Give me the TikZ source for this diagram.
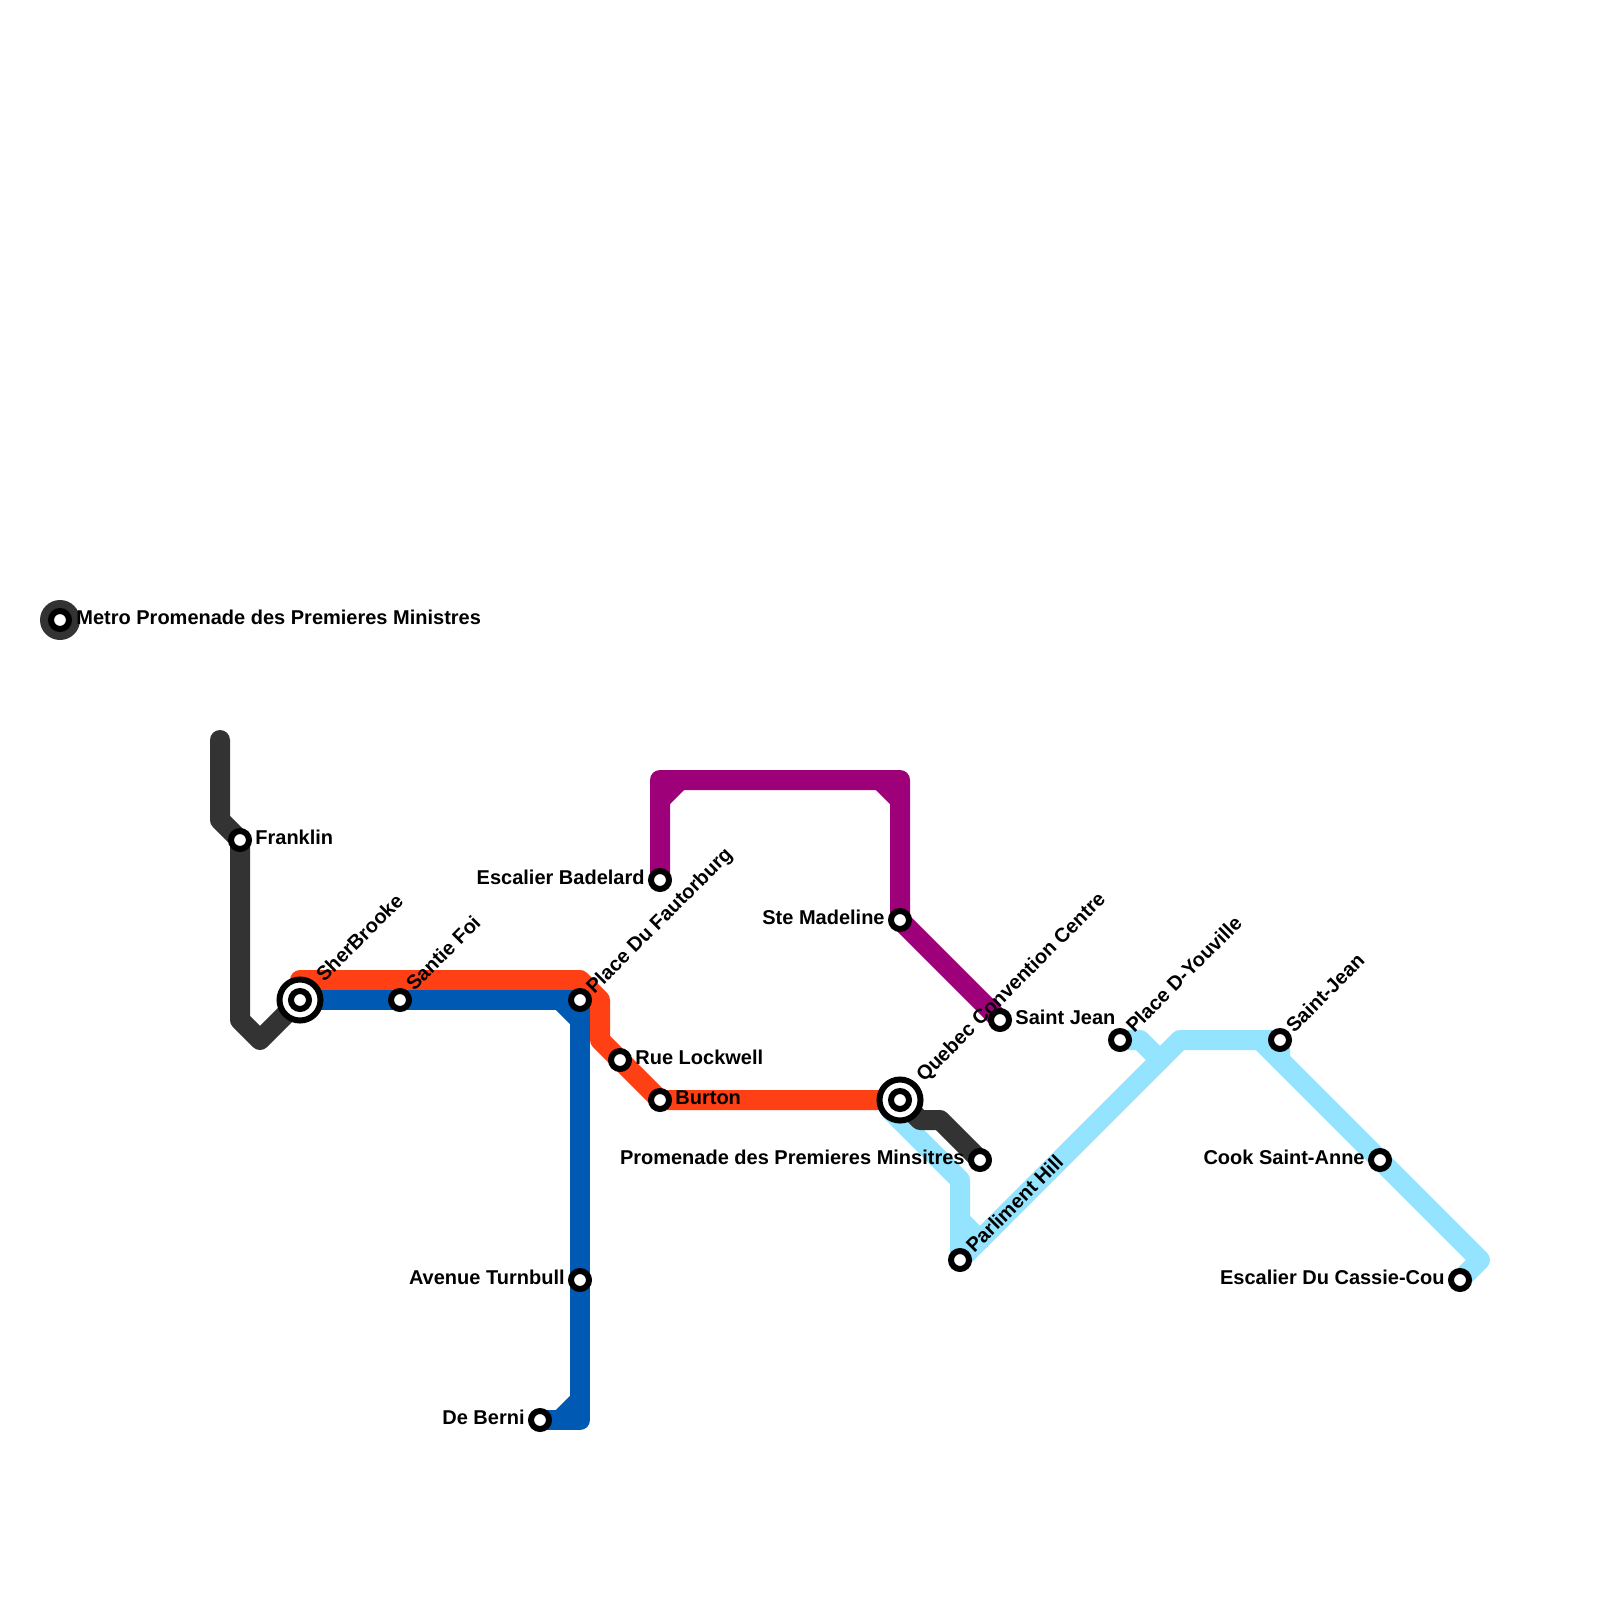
\documentclass[tikz,border=0pt]{standalone}
\usepackage{fontspec}
\setmainfont{Liberation Sans}
\usetikzlibrary{backgrounds}
\definecolor{lblack}{HTML}{333333}
\definecolor{lred}{HTML}{FF4014}
\definecolor{lblue}{HTML}{0059B3}
\definecolor{lpurple}{HTML}{9E007A}
\definecolor{lsky}{HTML}{94E3FF}
\tikzset{
  stn/.style={circle,draw=black,fill=white,line width=3pt,minimum size=9pt,inner sep=0pt,outer sep=0pt},
  hub/.style={circle,draw=black,fill=white,line width=3pt,minimum size=20.5pt,inner sep=0pt,outer sep=0pt},
  metro/.style={circle,fill=lblack,minimum size=20pt,inner sep=0pt,outer sep=0pt},
  track/.style={line width=10pt,line cap=round,line join=round},
  txt/.style={font=\fontsize{10pt}{12pt}\selectfont\bfseries,inner sep=0pt,text=black},
  lbr/.style={txt,anchor=base west},
  lbl/.style={txt,anchor=base east},
  lbd/.style={txt,anchor=base west,rotate=45}
}
\begin{document}
\begin{tikzpicture}[x=0.5pt,y=-0.5pt]
\path[use as bounding box] (0,0) rectangle (1600,1600);
% stations
\node[metro] (mpmo) at (60,620) {};
\node[stn] (mp) at (60,620) {};
\node[stn] (fr) at (240,840) {};
\node[hub] (sbo) at (300,1000) {};
\node[stn] (sb) at (300,1000) {};
\node[stn] (sf) at (400,1000) {};
\node[stn] (pf) at (580,1000) {};
\node[stn] (rl) at (620,1060) {};
\node[stn] (bu) at (660,1100) {};
\node[stn] (eb) at (660,880) {};
\node[stn] (sm) at (900,920) {};
\node[stn] (sj) at (1000,1020) {};
\node[hub] (qco) at (900,1100) {};
\node[stn] (qc) at (900,1100) {};
\node[stn] (pm) at (980,1160) {};
\node[stn] (ph) at (960,1260) {};
\node[stn] (py) at (1120,1040) {};
\node[stn] (sa) at (1280,1040) {};
\node[stn] (ck) at (1380,1160) {};
\node[stn] (ec) at (1460,1280) {};
\node[stn] (at) at (580,1280) {};
\node[stn] (db) at (540,1420) {};
% waypoints
\coordinate (k1) at (220,740);
\coordinate (k2) at (220,820);
\coordinate (k3) at (240,1020);
\coordinate (k4) at (260,1040);
\coordinate (k5) at (920,1120);
\coordinate (k6) at (940,1120);
\coordinate (r1) at (300,980);
\coordinate (r2) at (580,980);
\coordinate (r3) at (600,1000);
\coordinate (r4) at (600,1040);
\coordinate (b1) at (580,1420);
\coordinate (b2) at (560,1000);
\coordinate (b3) at (580,1020);
\coordinate (b4) at (560,1420);
\coordinate (b5) at (580,1400);
\coordinate (p1) at (660,780);
\coordinate (p2) at (900,780);
\coordinate (p3) at (660,800);
\coordinate (p4) at (680,780);
\coordinate (p5) at (880,780);
\coordinate (p6) at (900,800);
\coordinate (s0) at (890,1110);
\coordinate (s1) at (960,1180);
\coordinate (s2) at (960,1220);
\coordinate (s3) at (980,1240);
\coordinate (s4) at (1180,1040);
\coordinate (s5) at (1260,1040);
\coordinate (s6) at (1480,1260);
\coordinate (s7) at (1280,1060);
\coordinate (s8) at (1140,1040);
\coordinate (s9) at (1160,1060);
\begin{scope}[on background layer]
\fill[white] (0,0) rectangle (1600,1600);
% sky line
\draw[track,lsky] (s0) -- (s1) -- (ph.center) -- (s4) -- (sa.center) -- (s7);
\draw[track,lsky] (s2) -- (s3);
\draw[track,lsky] (s5) -- (ck.center) -- (s6) -- (ec.center);
\draw[track,lsky] (py.center) -- (s8) -- (s9);
% black line
\draw[track,lblack] (k1) -- (k2) -- (fr.center) -- (k3) -- (k4) -- (sb.center);
\draw[track,lblack] (qc.center) -- (k5) -- (k6) -- (pm.center);
% red line
\draw[track,lred] (sb.center) -- (r1) -- (r2) -- (r3) -- (r4) -- (rl.center) -- (bu.center) -- (qc.center);
% blue line
\draw[track,lblue] (sb.center) -- (pf.center) -- (b1) -- (db.center);
\draw[track,lblue] (b2) -- (b3);
\draw[track,lblue] (b4) -- (b5);
% purple line
\draw[track,lpurple] (eb.center) -- (p1) -- (p2) -- (sm.center) -- (sj.center);
\draw[track,lpurple] (p3) -- (p4);
\draw[track,lpurple] (p5) -- (p6);
\end{scope}
% labels
\node[lbr] (tmp) at (76,624.7) {Metro Promenade des Premieres Ministres};
\node[lbr] (tfr) at (255,844.7) {Franklin};
\node[lbd] (tsb) at (324,983) {SherBrooke};
\node[lbd] (tsf) at (414,992) {Santie Foi};
\node[lbd] (tpf) at (594,995) {Place Du Fautorburg};
\node[lbr] (trl) at (635,1064.7) {Rue Lockwell};
\node[lbr] (tbu) at (675,1104.7) {Burton};
\node[lbl] (teb) at (645,884.7) {Escalier Badelard};
\node[lbl] (tsm) at (885,924.7) {Ste Madeline};
\node[lbr] (tsj) at (1015,1024.7) {Saint Jean};
\node[lbd] (tqc) at (924,1083) {Quebec Convention Centre};
\node[lbl] (tpm) at (965,1164.7) {Promenade des Premieres Minsitres};
\node[lbd] (tph) at (974,1254) {Parliment Hill};
\node[lbd] (tpy) at (1134,1034) {Place D-Youville};
\node[lbd] (tsa) at (1294,1034) {Saint-Jean};
\node[lbl] (tck) at (1365,1164.7) {Cook Saint-Anne};
\node[lbl] (tec) at (1445,1284.7) {Escalier Du Cassie-Cou};
\node[lbl] (tat) at (565,1284.7) {Avenue Turnbull};
\node[lbl] (tdb) at (525,1424.7) {De Berni};
\end{tikzpicture}
\end{document}
